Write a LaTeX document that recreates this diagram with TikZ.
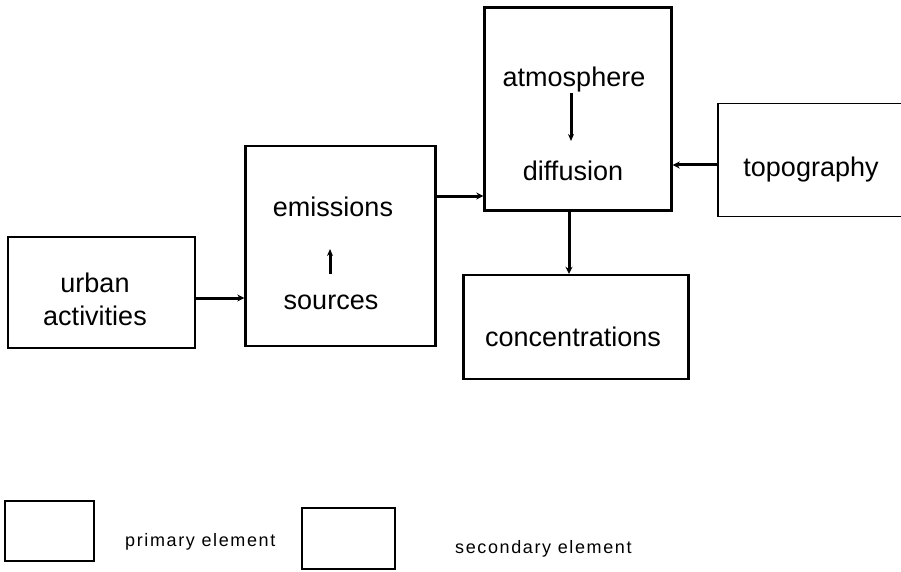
\documentclass[tikz,border=0pt]{standalone}
\usepackage{fontspec}
\setmainfont[Ligatures=NoCommon]{Liberation Sans}
\newfontfamily\legendfont[LetterSpace=9,Ligatures=NoCommon]{Liberation Sans}
\usetikzlibrary{arrows.meta,calc}
\begin{document}
\begin{tikzpicture}[x=1pt,y=-1pt,
  primary/.style={draw,line width=2.4pt,inner sep=0pt},
  secondary/.style={draw,line width=1.2pt,inner sep=0pt},
  label/.style={anchor=base,inner sep=0pt,font=\fontsize{27}{33}\selectfont},
  legendtext/.style={anchor=base west,inner sep=0pt,font=\legendfont\fontsize{18}{21}\selectfont},
  flow/.style={draw,line width=3pt,-{Stealth[length=7pt,width=7pt]}},
  withinflow/.style={draw,line width=3pt,-{Stealth[length=7pt,width=6pt]}}]
\useasboundingbox (0,0) rectangle (901,572);
\clip (0,0) rectangle (901,572);

% element boxes
\node[secondary,minimum width=187pt,minimum height=111pt] (ua) at (101.5,292.5) {};
\node[primary,minimum width=190pt,minimum height=200pt] (src) at (340.5,246) {};
\node[primary,minimum width=187pt,minimum height=203pt] (atm) at (578,109) {};
\node[secondary,minimum width=190pt,minimum height=113pt] (topo) at (813,160) {};
\node[primary,minimum width=225pt,minimum height=104pt] (conc) at (576,327) {};

% texts
\node[label] (t-urban) at (95,292) {urban};
\node[label] (t-act) at (95,325) {activities};
\node[label] (t-em) at (333,216) {emissions};
\node[label] (t-src) at (331,309) {sources};
\node[label] (t-atm) at (574,87) {atmosphere};
\node[label] (t-dif) at (573,180) {diffusion};
\node[label] (t-topo) at (811,176) {topography};
\node[label] (t-conc) at (573,346) {concentrations};

% links between elements
\coordinate (r1) at (0,298);
\coordinate (r2) at (0,196);
\coordinate (r3) at (0,165);
\coordinate (r4) at (569,0);
\path[flow] (ua.east |- r1) -- (src.west |- r1);
\path[flow] (src.east |- r2) -- (atm.west |- r2);
\path[flow] (topo.west |- r3) -- (atm.east |- r3);
\path[flow] (atm.south -| r4) -- (conc.north -| r4);

% links inside the primary elements
\coordinate (p1) at (330,274);
\coordinate (p2) at (330,249);
\path[withinflow] (p1) -- (p2);
\coordinate (q1) at (571,93);
\coordinate (q2) at (571,141);
\path[withinflow] (q1) -- (q2);

% legend
\node[primary,minimum width=89pt,minimum height=60pt] (lp) at (49.5,531) {};
\node[legendtext] (lpt) at (125,546) {primary element};
\node[secondary,minimum width=93pt,minimum height=61pt] (ls) at (348.5,538.5) {};
\node[legendtext] (lst) at (455,553) {secondary element};
\end{tikzpicture}
\end{document}
